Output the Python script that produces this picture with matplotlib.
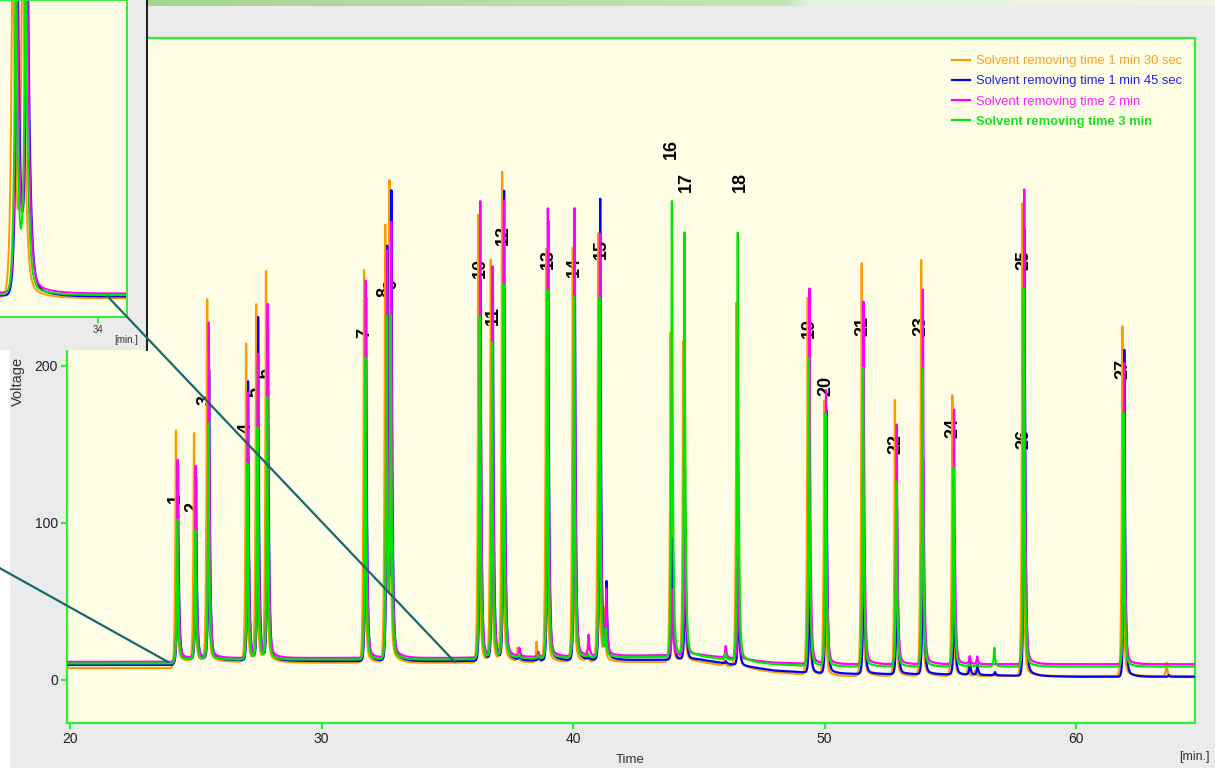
import numpy as np
import matplotlib
matplotlib.use("Agg")
import matplotlib.pyplot as plt
from matplotlib.patches import Rectangle, ConnectionPatch
from matplotlib.colors import LinearSegmentedColormap

plt.rcParams['font.family'] = ['Liberation Sans', 'DejaVu Sans']

W, H = 1215, 768

series_names = ["Solvent removing time 1 min 30 sec",
                "Solvent removing time 1 min 45 sec",
                "Solvent removing time 2 min",
                "Solvent removing time 3 min"]
series_colors = ['#ff9900', '#0000ff', '#ff00ff', '#00e600']
text_colors = ['#ffa024', '#2020f0', '#ff20ff', '#20dd20']
# retention shift of each run relative to the first one (min)
series_shift = [0.0, 0.08, 0.07, 0.05]

# main peaks: retention time (min) and apex voltage per run
peak_t = [24.21, 24.93, 25.45, 27.00, 27.40, 27.79, 31.69, 32.53, 32.70,
          36.24, 36.73, 37.18, 38.93, 39.99, 41.00, 43.88, 44.38, 46.50,
          49.33, 49.99, 51.48, 52.80, 53.84, 55.08, 57.87, 61.84]
apex_orange = [166, 164, 253, 214, 238, 271, 273, 302, 310, 296, 279, 322, 287,
               288, 284, 221, 215, 240, 255, 186, 265, 178, 267, 181, 318, 225]
apex_blue = [143, 135, 206, 190, 230, 233, 255, 288, 304, 255, 271, 310, 306,
             293, 306, 90, 95, 66, 83, 180, 120, 110, 140, 78, 301, 210]
apex_magenta = [140, 136, 227, 191, 216, 238, 254, 272, 298, 319, 262, 318, 300,
                300, 297, 60, 140, 81, 249, 184, 252, 170, 260, 180, 312, 211]
apex_green = [102, 95, 163, 144, 167, 179, 205, 231, 237, 242, 214, 263, 248,
              244, 254, 319, 297, 298, 205, 169, 208, 132, 207, 141, 249, 178]

# small peaks
minor_t = [37.80, 38.55, 40.55, 41.25, 46.00, 55.70, 56.00, 56.70, 63.60]
minor_orange = [20, 25, 18, 45, 13, 8, 6, 4, 11]
minor_blue = [16, 16, 14, 62, 12, 12, 10, 5, 3]
minor_magenta = [20, 18, 28, 55, 22, 15, 15, 10, 10]
minor_green = [16, 16, 16, 30, 17, 10, 10, 21, 9]

# baseline drift of each run
base_t = [19.9, 24.05, 24.4, 30, 35, 40, 45, 48, 50, 55, 60, 64.8]
base_orange = [7.5, 7.5, 12, 11, 11, 11.5, 11.5, 5, 2.5, 2.5, 2.5, 2.5]
base_blue = [9.5, 9.5, 13, 12, 12, 12.5, 13, 6, 4, 3.5, 2, 2]
base_magenta = [11.5, 11.5, 14, 14, 14, 15, 16, 11, 10, 10, 10, 10]
base_green = [10.5, 10.5, 13, 13, 13, 14, 15, 10, 8.5, 8.5, 8.5, 8.5]

# peak numbers
label_text = [str(i) for i in range(1, 28)]
label_t = [24.17, 24.89, 25.37, 27.00, 27.36, 27.75, 31.71, 32.51, 32.79,
           36.30, 36.82, 37.22, 39.01, 40.04, 41.11, 43.93, 44.49, 46.64,
           49.38, 50.06, 51.52, 52.84, 53.84, 55.11, 57.93, 57.93, 61.87]
label_v = [116, 110, 178, 160, 183, 195, 221, 247, 252, 262, 232, 283, 268,
           263, 274, 338, 317, 317, 224, 187, 225, 150, 225, 160, 267, 153, 198]

apexes = [(apex_orange, minor_orange, base_orange),
          (apex_blue, minor_blue, base_blue),
          (apex_magenta, minor_magenta, base_magenta),
          (apex_green, minor_green, base_green)]

t = np.arange(19.9, 64.8, 0.004)


def trace(apex, minor, base, shift):
    y = np.interp(t, base_t, base)
    for times, heights in ((peak_t, apex), (minor_t, minor)):
        for tp, hp in zip(times, heights):
            t0 = tp + shift
            h = max(hp - np.interp(t0, base_t, base), 0)
            dt = t - t0
            shape = np.where(dt < 0, np.exp(np.minimum(dt, 0) / 0.03),
                             np.exp(-np.maximum(dt, 0) / 0.04))
            tail = np.where(dt > 0, 0.025 * np.exp(-np.maximum(dt, 0) / 0.25)
                            * (1 - np.exp(-np.maximum(dt, 0) / 0.03)), 0)
            y = y + h * (shape + tail)
    return y


signals = [trace(a, m, b, s) for (a, m, b), s in zip(apexes, series_shift)]

fig = plt.figure(figsize=(W / 100, H / 100), dpi=100, facecolor='#ebebeb')
fig.add_artist(Rectangle((0, 0), 10 / W, (H - 350) / H, transform=fig.transFigure,
                         facecolor='white', edgecolor='none', zorder=0))

# green header strip
band = fig.add_axes([148 / W, 1 - 6 / H, 1 - 148 / W, 6 / H])
band_cmap = LinearSegmentedColormap.from_list(
    'band', [(0, '#a6d592'), (0.6, '#c4e5b4'), (0.62, '#e4f1dc'), (1, '#eef4ea')])
band.imshow(np.linspace(0, 1, 256)[None, :], aspect='auto', cmap=band_cmap)
band.axis('off')

green = '#33ee33'
ax = fig.add_axes([67 / W, 1 - 723 / H, 1128 / W, 685 / H])
ax.set_facecolor('#fefee6')
lines = []
for sig, col, name in zip(signals, series_colors, series_names):
    ln, = ax.plot(t, sig, color=col, lw=1.6, zorder=3, label=name)
    lines.append(ln)
for txt, lt, lv in zip(label_text, label_t, label_v):
    ax.text(lt, lv, txt, rotation=90, ha='center', va='center', fontsize=13,
            fontweight='bold', color='black', zorder=2)

ax.set_xlim(19.88, 64.73)
ax.set_ylim(-27.4, 408.4)
ax.set_xticks([20, 30, 40, 50, 60])
ax.set_yticks([0, 100, 200, 300])
for sp in ax.spines.values():
    sp.set_color(green)
    sp.set_linewidth(1.6)
ax.tick_params(colors=green, width=1.6, length=4, pad=2.5, labelsize=10,
               labelcolor='#222222')

leg = ax.legend(loc='upper right', bbox_to_anchor=(0.989, 0.975), frameon=False,
                fontsize=9.4, handlelength=1.45, handletextpad=0.45, labelspacing=0.62,
                borderaxespad=0, borderpad=0)
for txt, col in zip(leg.get_texts(), text_colors):
    txt.set_color(col)
leg.get_texts()[-1].set_fontweight('bold')

fig.text(18 / W, 1 - 381 / H, 'Voltage', rotation=90, ha='center', va='center',
         fontsize=10.5, color='#333333')
fig.text(630 / W, 1 - 760 / H, 'Time', ha='center', va='center', fontsize=9.5,
         color='#333333')
fig.text(1210 / W, 1 - 757 / H, '[min.]', ha='right', va='center', fontsize=9,
         color='#333333')

# zoomed view of the early part of the run
frame = fig.add_axes([-0.6, 1 - 350 / H, 0.6 + 147 / W, 350 / H + 0.1])
frame.set_facecolor('#ebebeb')
frame.set_xticks([])
frame.set_yticks([])
for name, sp in frame.spines.items():
    sp.set_visible(name == 'right')
frame.spines['right'].set_color('#222222')
frame.spines['right'].set_linewidth(1.5)

inset = fig.add_axes([-488 / W, 1 - 317 / H, 615 / W, 317 / H])
inset.set_facecolor('#fefee6')
for sig, col in zip(signals, series_colors):
    inset.plot(t, sig, color=col, lw=1.4)
inset.set_xlim(23.9, 34.5)
inset.set_ylim(-1, 200.5)
inset.set_xticks([34])
inset.set_yticks([])
for sp in inset.spines.values():
    sp.set_color(green)
    sp.set_linewidth(1.4)
inset.tick_params(colors=green, width=1.4, length=4, pad=1.5, labelsize=7,
                  labelcolor='#333333')
fig.text(126 / W, 1 - 340 / H, '[min.]', ha='center', va='center', fontsize=7,
         color='#333333')

teal = '#17696b'
for (xa, ya), (xb, yb) in [((23.9, 11.4), (23.9, 12.3)), ((35.3, 11.4), (34.16, 12.3))]:
    con = ConnectionPatch(xyA=(xa, ya), coordsA=ax.transData,
                          xyB=(xb, yb), coordsB=inset.transData,
                          color=teal, lw=1.6, zorder=10)
    fig.add_artist(con)

fig.savefig('out.png', dpi=100, facecolor=fig.get_facecolor())
